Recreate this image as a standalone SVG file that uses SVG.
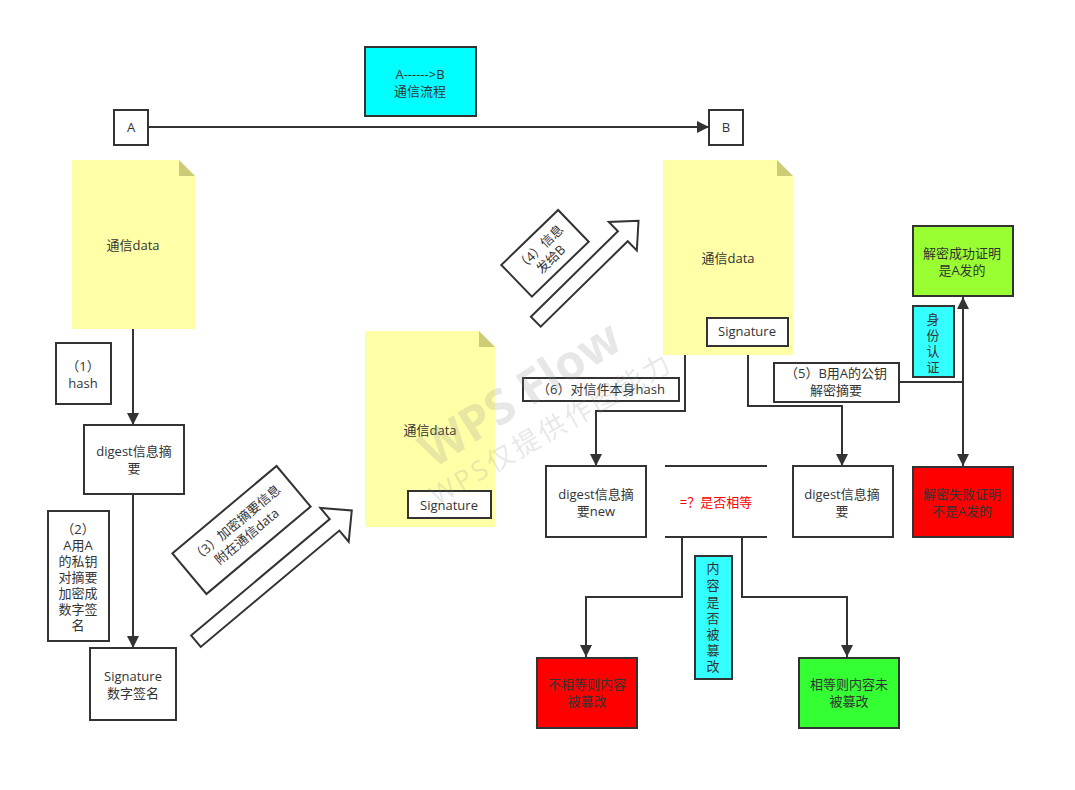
<svg xmlns="http://www.w3.org/2000/svg" width="1075" height="790" viewBox="0 0 1075 790">
<defs>
<style>
text{font-family:"Open Sans","Noto Sans CJK SC",sans-serif;font-size:13px;fill:#333;text-anchor:middle}
.box{fill:#fff;stroke:#333;stroke-width:2}
.note{fill:#FFFFA8}
.fold{fill:#CCCC77}
.ln{fill:none;stroke:#333;stroke-width:2}
.big{fill:#fff;stroke:#333;stroke-width:2;stroke-linejoin:miter}
.wm{font-family:"Open Sans","Noto Sans CJK SC",sans-serif;fill:#888;fill-opacity:0.2}
</style>
<marker id="ah" viewBox="0 0 12 12" refX="12" refY="6" markerWidth="12" markerHeight="12" markerUnits="userSpaceOnUse" orient="auto-start-reverse">
<path d="M0,0 L12,6 L0,12 z" fill="#333"/>
</marker>
</defs>
<rect width="1075" height="790" fill="#fff"/>

<g id="connectors">
<line class="ln" x1="148" y1="127" x2="709" y2="127" marker-end="url(#ah)"/>
<line class="ln" x1="133" y1="329" x2="133" y2="425" marker-end="url(#ah)"/>
<line class="ln" x1="133" y1="494" x2="133" y2="648" marker-end="url(#ah)"/>
<polyline class="ln" points="685,355 685,411 596,411 596,466" marker-end="url(#ah)"/>
<polyline class="ln" points="748,346 748,406 842,406 842,466" marker-end="url(#ah)"/>
<line class="ln" x1="899" y1="382" x2="963" y2="382"/>
<line class="ln" x1="963" y1="297" x2="963" y2="466" marker-start="url(#ah)" marker-end="url(#ah)"/>
<polyline class="ln" points="682,537 682,597 586,597 586,657" marker-end="url(#ah)"/>
<polyline class="ln" points="742,537 742,597 847,597 847,657" marker-end="url(#ah)"/>
</g>

<g id="nodeA"><rect class="box" x="114" y="110" width="34" height="35"/><text x="131" y="132">A</text></g>
<g id="nodeB"><rect class="box" x="709" y="110" width="34" height="35"/><text x="726" y="132">B</text></g>
<g id="title"><rect x="365" y="47" width="111" height="69" fill="#00FFFF" stroke="#333" stroke-width="2"/><text x="420" y="79">A------&gt;B</text><text x="420" y="96">通信流程</text></g>

<g id="note1"><path class="note" d="M72,160 H179 L195,176 V329 H72 z"/><path class="fold" d="M179,160 L195,176 H179 z"/><text x="133" y="250">通信data</text></g>
<g id="step1"><rect class="box" x="56" y="343" width="55" height="61"/><text x="83" y="371">（1）</text><text x="83" y="388">hash</text></g>
<g id="digest1"><rect class="box" x="84" y="425" width="100" height="69"/><text x="134" y="456">digest信息摘</text><text x="134" y="473">要</text></g>
<g id="step2"><rect class="box" x="48" y="511" width="61" height="130"/>
<text x="78" y="534">（2）</text><text x="78" y="550">A用A</text><text x="78" y="566">的私钥</text><text x="78" y="582">对摘要</text><text x="78" y="598">加密成</text><text x="78" y="614">数字签</text><text x="78" y="630">名</text></g>
<g id="signature1"><rect class="box" x="90" y="648" width="86" height="72"/><text x="133" y="681">Signature</text><text x="133" y="698">数字签名</text></g>

<g id="step3label" transform="translate(241.5,530) rotate(-40)"><rect class="box" x="-68" y="-26.5" width="136" height="53"/><text x="0" y="-4">（3）加密摘要信息</text><text x="0" y="13">附在通信data</text></g>
<g id="arrow3" transform="translate(195.9,641.2) rotate(-40)"><polygon class="big" points="0,-7.5 181,-7.5 181,-22 203.5,0 181,22 181,7.5 0,7.5"/></g>

<g id="note2"><path class="note" d="M365,331 H479 L495,347 V527 H365 z"/><path class="fold" d="M479,331 L495,347 H479 z"/><text x="430" y="435">通信data</text>
<rect class="box" x="408" y="491" width="83" height="27"/><text x="449" y="510">Signature</text></g>

<g id="step4label" transform="translate(545,253.3) rotate(-44)"><rect class="box" x="-39.5" y="-22" width="79" height="44"/><text x="0" y="-3">（4）信息</text><text x="0" y="13">发给B</text></g>
<g id="arrow4" transform="translate(535.8,321.7) rotate(-44.5)"><polygon class="big" points="0,-7 122,-7 122,-20 144,0 122,20 122,7 0,7"/></g>

<g id="note3"><path class="note" d="M663,160 H777 L793,176 V355 H663 z"/><path class="fold" d="M777,160 L793,176 H777 z"/><text x="728" y="263">通信data</text>
<rect class="box" x="707" y="318" width="81" height="28"/><text x="747" y="336">Signature</text></g>

<g id="step6"><rect class="box" x="523" y="378" width="156" height="23"/><text x="601" y="394">（6）对信件本身hash</text></g>
<g id="step5"><rect class="box" x="774" y="363" width="125" height="39"/><text x="836" y="378">（5）B用A的公钥</text><text x="836" y="395">解密摘要</text></g>

<g id="digestNew"><rect class="box" x="546" y="466" width="100" height="71"/><text x="596" y="499">digest信息摘</text><text x="596" y="516">要new</text></g>
<g id="compare"><line class="ln" x1="665" y1="466" x2="767" y2="466"/><line class="ln" x1="665" y1="537" x2="767" y2="537"/><text x="716" y="507" style="fill:#FF0000">=？是否相等</text></g>
<g id="digest2"><rect class="box" x="793" y="466" width="100" height="71"/><text x="842" y="499">digest信息摘</text><text x="842" y="516">要</text></g>

<g id="okA"><rect x="913" y="226" width="100" height="70" fill="#99FF33" stroke="#333" stroke-width="2"/><text x="962" y="258">解密成功证明</text><text x="962" y="275">是A发的</text></g>
<g id="auth"><rect x="913" y="306" width="41" height="71" fill="#33FFFF" stroke="#333" stroke-width="2"/><text x="933" y="324">身</text><text x="933" y="340">份</text><text x="933" y="356">认</text><text x="933" y="372">证</text></g>
<g id="failA"><rect x="913" y="467" width="100" height="70" fill="#FF0000" stroke="#333" stroke-width="2"/><text x="962" y="499">解密失败证明</text><text x="962" y="516">不是A发的</text></g>

<g id="tampered"><rect x="537" y="658" width="100" height="70" fill="#FF0000" stroke="#333" stroke-width="2"/><text x="587" y="689">不相等则内容</text><text x="587" y="706">被篡改</text></g>
<g id="intact"><rect x="799" y="658" width="100" height="70" fill="#33FF33" stroke="#333" stroke-width="2"/><text x="849" y="689">相等则内容未</text><text x="849" y="706">被篡改</text></g>
<g id="tamperLabel"><rect x="695" y="556" width="37" height="123" fill="#33FFFF" stroke="#333" stroke-width="2"/>
<text x="713" y="573">内</text><text x="713" y="590">容</text><text x="713" y="607">是</text><text x="713" y="623">否</text><text x="713" y="639">被</text><text x="713" y="655">篡</text><text x="713" y="671">改</text></g>

<g id="watermark">
<text class="wm" x="0" y="0" transform="translate(529,408) rotate(-32.5)" style="font-size:48px;font-weight:bold">WPS Flow</text>
<text class="wm" x="0" y="0" transform="translate(556,437) rotate(-30)" style="font-size:27px;letter-spacing:3px">WPS仅提供作图能力</text>
</g>
</svg>
